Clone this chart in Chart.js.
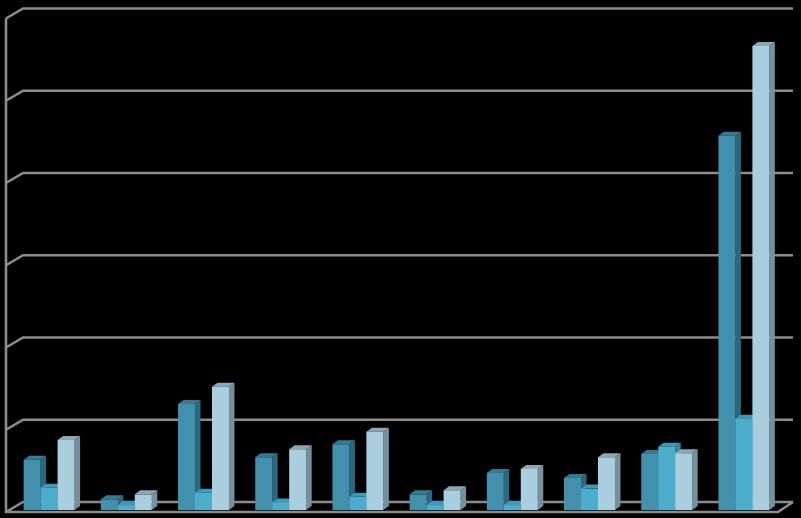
<!DOCTYPE html>
<html>
<head>
<meta charset="utf-8">
<style>
  html, body { margin: 0; background: #000; }
  canvas { display: block; }
</style>
<script src="https://cdn.jsdelivr.net/npm/chart.js@4"></script>
</head>
<body>
<canvas id="barChart" width="801" height="518"></canvas>
<script>
const categories = ['1', '2', '3', '4', '5', '6', '7', '8', '9', '10'];
const seriesA = [61, 13, 129, 64, 80, 19, 45, 39, 68, 455];
const seriesB = [27, 6, 21, 9, 16, 6, 6, 26, 77, 111];
const seriesC = [85, 19, 150, 74, 95, 24, 50, 64, 69, 564];

// side + top colours of the fake 3D box, one pair per dataset
const faces = [
    { side: '#2c687f', top: '#347a93' },
    { side: '#3788a3', top: '#3f9ab8' },
    { side: '#75919e', top: '#8da7b2' }
];
const depthX = 5.5, depthY = 4;

const drawFaces = (ctx, meta, face) => {
    meta.data.forEach((bar) => {
        const p = bar.getProps(['x', 'y', 'base', 'width'], true);
        const left = p.x - p.width / 2, right = p.x + p.width / 2;
        ctx.fillStyle = face.side;
        ctx.beginPath();
        ctx.moveTo(right, p.y);
        ctx.lineTo(right + depthX, p.y - depthY);
        ctx.lineTo(right + depthX, p.base - depthY);
        ctx.lineTo(right, p.base);
        ctx.closePath();
        ctx.fill();
        ctx.fillStyle = face.top;
        ctx.beginPath();
        ctx.moveTo(left, p.y);
        ctx.lineTo(left + depthX, p.y - depthY);
        ctx.lineTo(right + depthX, p.y - depthY);
        ctx.lineTo(right, p.y);
        ctx.closePath();
        ctx.fill();
    });
};

const wallPlugin = {
    id: 'wall',
    beforeDatasetsDraw(chart) {
        const { ctx, chartArea, scales } = chart;
        const l = 6, r = 778, backL = 23, backR = 793;
        ctx.save();
        ctx.strokeStyle = '#8c8c8c';
        ctx.lineWidth = 2.6;
        ctx.beginPath();
        scales.y.ticks.forEach((t, i) => {
            const y = scales.y.getPixelForTick(i);
            ctx.moveTo(l, y + 2);
            ctx.lineTo(backL, y - 8);
            ctx.lineTo(backR, y - 8);
        });
        // floor + left wall
        const y0 = scales.y.getPixelForValue(0) + 2;
        ctx.moveTo(l, chartArea.top + 2);
        ctx.lineTo(l, y0);
        ctx.lineTo(r, y0);
        ctx.lineTo(backR, y0 - 10);
        ctx.stroke();
        // boxes left to right so each front covers the side of the one before
        chart.data.datasets.forEach((ds, i) => {
            const meta = chart.getDatasetMeta(i);
            drawFaces(ctx, meta, faces[i]);
            meta.controller.draw();
        });
        ctx.restore();
    },
    // already drawn above, in the other order
    beforeDatasetDraw() {
        return false;
    }
};

new Chart(document.getElementById('barChart'), {
    type: 'bar',
    data: {
        labels: categories,
        datasets: [
            { label: 'A', data: seriesA, backgroundColor: '#4390ac' },
            { label: 'B', data: seriesB, backgroundColor: '#4dadcd' },
            { label: 'C', data: seriesC, backgroundColor: '#a9cfde' }
        ]
    },
    options: {
        responsive: false,
        animation: false,
        layout: { padding: { left: 10.5, right: 18.5, top: 16.5, bottom: 8 } },
        datasets: { bar: { categoryPercentage: 0.66, barPercentage: 1, borderWidth: 0 } },
        scales: {
            x: { display: false },
            y: { display: false, min: 0, max: 600, ticks: { stepSize: 100 } }
        },
        plugins: { legend: { display: false }, tooltip: { enabled: false } }
    },
    plugins: [wallPlugin]
});
</script>
</body>
</html>
